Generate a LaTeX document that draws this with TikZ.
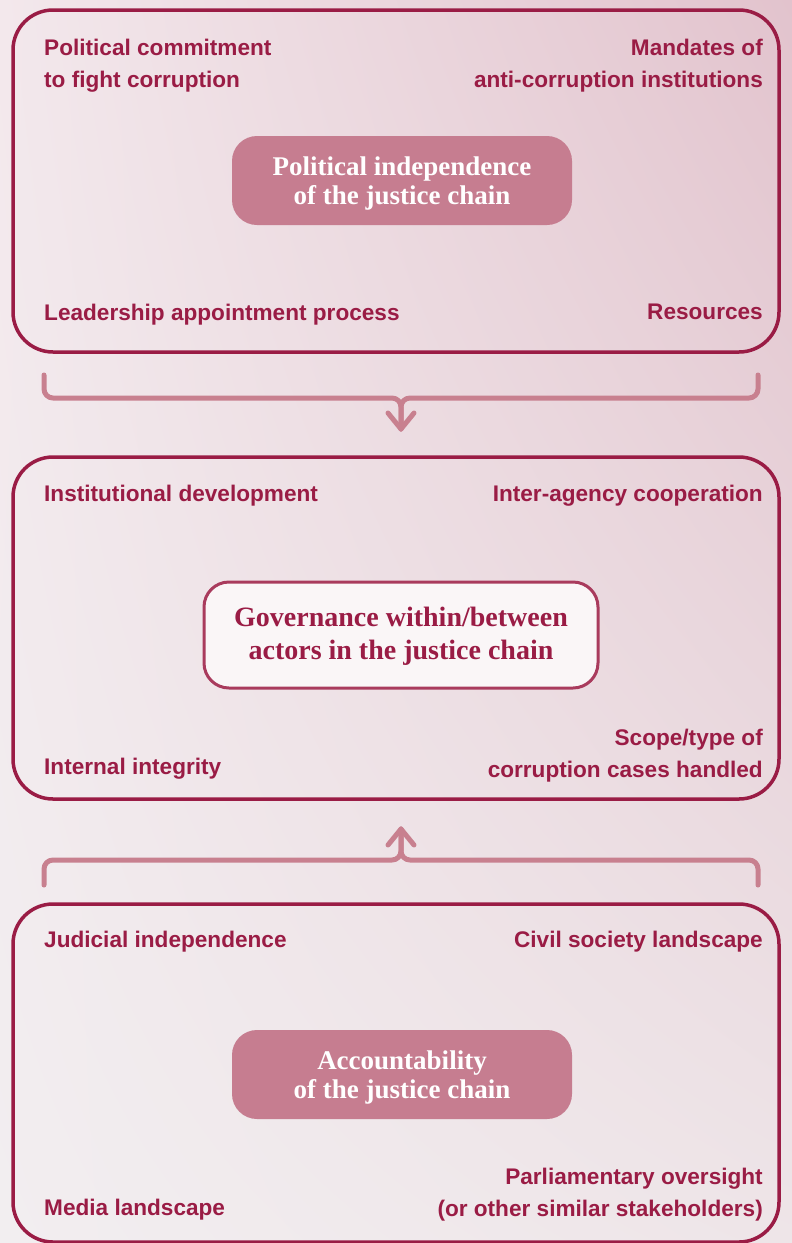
\documentclass[tikz,border=0pt]{standalone}
\usepackage{fontspec}
\setmainfont{Liberation Serif}
\setsansfont{Liberation Sans}
\usetikzlibrary{shadings}
\definecolor{crim}{HTML}{9A1C45}
\definecolor{rose}{HTML}{C67D90}
\definecolor{braceC}{HTML}{C8808F}
\definecolor{midborder}{HTML}{A93B5D}
\definecolor{midfill}{HTML}{FAF6F7}
\definecolor{bgUL}{HTML}{F3E8EC}
\definecolor{bgUR}{HTML}{E2C3CD}
\definecolor{bgLL}{HTML}{F2EEF0}
\definecolor{bgLR}{HTML}{EEE5E8}
\newcommand{\upstrut}[1]{\rule{0pt}{#1}}
\begin{document}
\begin{tikzpicture}[x=1pt,y=-1pt,
  outerbox/.style={draw=crim, line width=3.5pt, rounded corners=40pt},
  lab/.style={font=\sffamily\bfseries\fontsize{22.6}{32}\selectfont, text=crim, inner sep=0pt},
  labl/.style={lab, anchor=north west, align=left},
  labr/.style={lab, anchor=north east, align=right},
  title/.style={font=\bfseries\fontsize{27}{29}\selectfont, align=center, rounded corners=25pt,
    minimum width=340pt, minimum height=89pt, inner sep=0pt},
  filledtitle/.style={title, fill=rose, text=white},
  framedtitle/.style={title, font=\bfseries\fontsize{28}{33}\selectfont, fill=midfill,
    draw=midborder, line width=3pt, text=crim, minimum width=394pt, minimum height=106pt},
  brace/.style={draw=braceC, line width=5pt, rounded corners=9pt, line cap=round, line join=round},
  tip/.style={draw=braceC, line width=5pt, line cap=round, line join=round}
]
\useasboundingbox (0,0) rectangle (792,1243);
\shade[upper left=bgUL, upper right=bgUR, lower left=bgLL, lower right=bgLR] (0,0) rectangle (792,1243);

% outer boxes
\draw[outerbox] (13,10) rectangle (779,352);
\draw[outerbox] (13,457) rectangle (779,799);
\draw[outerbox] (13,904) rectangle (779,1242);

% box 1
\node[labl] (pc) at (44,39) {Political commitment\\to fight corruption};
\node[labr] (mand) at (763,39) {Mandates of\\anti-corruption institutions};
\node[labl] (lead) at (44,304) {Leadership appointment process};
\node[labr] (res) at (763,304) {Resources};
\node[filledtitle] (pi) at (402,180.5) {\upstrut{25pt}Political independence\\of the justice chain};

% box 2
\node[labl] (inst) at (44,485) {Institutional development};
\node[labr] (inter) at (763,485) {Inter-agency cooperation};
\node[labl] (integ) at (44,758) {Internal integrity};
\node[labr] (scope) at (763,729) {Scope/type of\\corruption cases handled};
\node[framedtitle] (gov) at (401,635) {\upstrut{22pt}Governance within/between\\actors in the justice chain};

% box 3
\node[labl] (jud) at (44,931) {Judicial independence};
\node[labr] (civ) at (763,931) {Civil society landscape};
\node[labl] (media) at (44,1199) {Media landscape};
\node[labr] (parl) at (763,1168) {Parliamentary oversight\\(or other similar stakeholders)};
\node[filledtitle] (acc) at (402,1074.5) {\upstrut{24pt}Accountability\\of the justice chain};

% top brace
\coordinate (b1l) at (44,375);
\coordinate (b1r) at (758,375);
\coordinate (b1m) at (401,398);
\coordinate (b1t) at (401,429);
\draw[brace] (b1l) |- (b1m) -- (b1t);
\draw[brace] (b1r) |- (b1m) -- (b1t);
\draw[tip] ([xshift=-13pt,yshift=16pt]b1t) -- (b1t) -- ([xshift=13pt,yshift=16pt]b1t);

% bottom brace
\coordinate (b2l) at (44,885);
\coordinate (b2r) at (758,885);
\coordinate (b2m) at (401,860);
\coordinate (b2t) at (401,829);
\draw[brace] (b2l) |- (b2m) -- (b2t);
\draw[brace] (b2r) |- (b2m) -- (b2t);
\draw[tip] ([xshift=-13pt,yshift=-16pt]b2t) -- (b2t) -- ([xshift=13pt,yshift=-16pt]b2t);
\end{tikzpicture}
\end{document}
